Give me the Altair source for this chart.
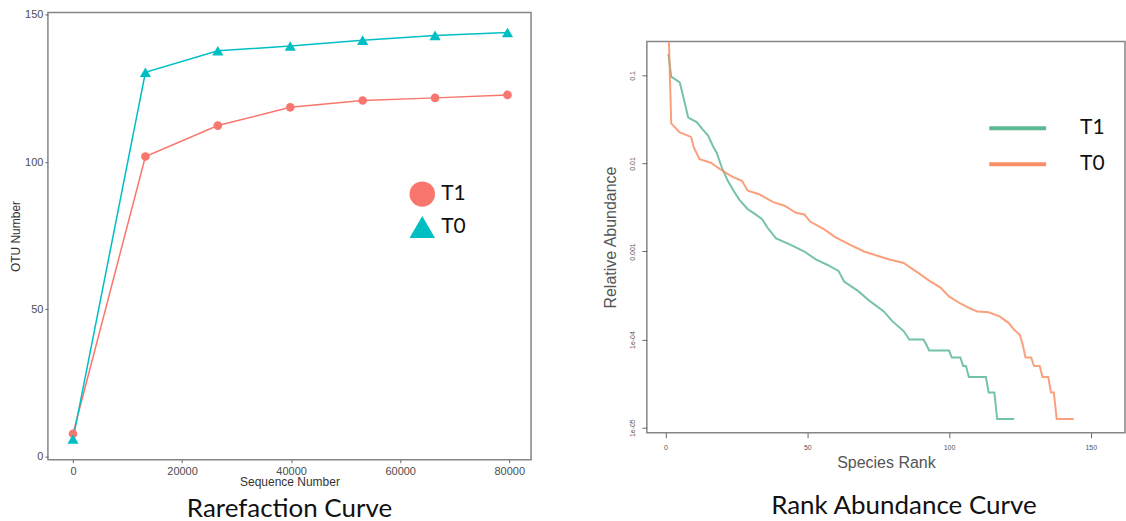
import altair as alt
import pandas as pd

# ---------------- Rarefaction curve (left) ----------------
seq_number = [0, 13280, 26560, 39840, 53120, 66400, 79680]
otu_t1 = [7.8, 101.9, 112.4, 118.6, 120.9, 121.8, 122.8]
otu_t0 = [6.0, 130.5, 137.8, 139.4, 141.4, 143.0, 144.0]
groups = ["T1", "T0"]
rare_colors = ["#F8766D", "#00BFC4"]
rare_shapes = ["circle", "triangle-up"]
rare_point_sizes = [75, 125]

# ---------------- Rank abundance curve (right) ----------------
rank_t1 = [1, 2, 5, 6, 8, 11, 13, 15, 17, 18, 20, 22, 24, 26, 29, 31, 34, 36, 39,
           44, 49, 53, 57, 61, 63, 68, 72, 77, 80, 84, 86, 91, 92, 93, 100, 101,
           104, 105, 106, 107, 113, 114, 116, 117, 123]
abund_t1 = [0.175, 0.0966, 0.0832, 0.0617, 0.0331, 0.0295, 0.0245, 0.0207, 0.0151,
            0.0133, 0.00871, 0.00631, 0.0049, 0.00389, 0.00302, 0.00275, 0.00234,
            0.00186, 0.00141, 0.0012, 0.001, 0.000813, 0.000708, 0.000603, 0.000457,
            0.000355, 0.000275, 0.000209, 0.000162, 0.000125, 0.0001004, 0.0001004,
            0.0000879, 0.0000753, 0.0000753, 0.0000628, 0.0000628, 0.0000502,
            0.0000502, 0.0000377, 0.0000377, 0.0000251, 0.0000251, 0.00001255,
            0.00001255]
rank_t0 = [1, 2, 5, 9, 10, 12, 16, 19, 23, 27, 29, 33, 38, 42, 46, 49, 51, 56, 60,
           65, 70, 75, 79, 84, 89, 93, 97, 100, 104, 107, 110, 114, 118, 121, 123,
           125, 126, 127, 129, 130, 132, 133, 135, 136, 137, 138, 144]
abund_t0 = [0.4, 0.0285, 0.0225, 0.02, 0.0151, 0.0112, 0.0102, 0.0087, 0.00724,
            0.00631, 0.0049, 0.00447, 0.00363, 0.00331, 0.00275, 0.00263, 0.00219,
            0.00178, 0.00145, 0.0012, 0.001, 0.000891, 0.000813, 0.000741, 0.000575,
            0.000468, 0.000389, 0.000309, 0.000257, 0.000229, 0.000209, 0.000204,
            0.000182, 0.000155, 0.000129, 0.000113, 0.0000879, 0.0000628, 0.0000628,
            0.0000502, 0.0000502, 0.0000377, 0.0000377, 0.0000251, 0.0000251,
            0.00001255, 0.00001255]
rank_colors = ["#5DB894", "#F98F66"]
log_ticks = [0.00001, 0.0001, 0.001, 0.01, 0.1]
log_tick_labels = ["1e-05", "1e-04", "0.001", "0.01", "0.1"]

# ---------------- tables ----------------
rare_df = pd.DataFrame({
    "seq": seq_number * 2,
    "otu": otu_t1 + otu_t0,
    "group": ["T1"] * len(seq_number) + ["T0"] * len(seq_number),
})
rank_df = pd.DataFrame({
    "rank": rank_t1 + rank_t0,
    "abund": abund_t1 + abund_t0,
    "sample": ["T1"] * len(rank_t1) + ["T0"] * len(rank_t0),
})

# ---------------- left chart ----------------
lx = alt.X("seq:Q", scale=alt.Scale(domain=[-4600, 84000], nice=False, zero=False),
           axis=alt.Axis(values=[0, 20000, 40000, 60000, 80000], format="d",
                         title="Sequence Number",
                         grid=False, domain=False, tickSize=3, tickColor="#666",
                         labelFont="Liberation Sans", labelFontSize=11, labelColor="#4d4d4d",
                         labelPadding=3, titleFont="Liberation Sans", titleFontSize=12,
                         titleFontWeight="normal", titleColor="#333", titlePadding=0))
ly = alt.Y("otu:Q", scale=alt.Scale(domain=[-1, 150.8], nice=False, zero=False),
           axis=alt.Axis(values=[0, 50, 100, 150], title="OTU Number", grid=False,
                         domain=False, tickSize=3, tickColor="#666",
                         labelFont="Liberation Sans", labelFontSize=11, labelColor="#4d4d4d",
                         labelPadding=2, titleFont="Liberation Sans", titleFontSize=12,
                         titleFontWeight="normal", titleColor="#333", titlePadding=2))
rare_scale = alt.Scale(domain=groups, range=rare_colors)
shape_scale = alt.Scale(domain=groups, range=rare_shapes)
rare_legend = alt.Legend(title=None, orient="none", legendX=362, legendY=169,
                         symbolSize=650, labelFont="Lato", labelFontSize=21,
                         labelColor="#111", rowPadding=7, padding=0,
                         labelOffset=6, symbolStrokeWidth=0, symbolOpacity=1)

rare_lines = alt.Chart(rare_df).mark_line(strokeWidth=1.5).encode(
    x=lx, y=ly,
    stroke=alt.Stroke("group:N", scale=rare_scale, legend=None),
)
point_layers = []
for g, s in zip(groups, rare_point_sizes):
    point_layers.append(
        alt.Chart(rare_df).transform_filter(alt.datum.group == g)
        .mark_point(filled=True, opacity=1, size=s).encode(
            x=lx, y=ly,
            color=alt.Color("group:N", scale=rare_scale, legend=rare_legend),
            shape=alt.Shape("group:N", scale=shape_scale, legend=rare_legend),
        )
    )
left = alt.layer(rare_lines, *point_layers).properties(
    width=484, height=448,
    title=alt.TitleParams("Rarefaction Curve", orient="bottom", font="Lato", fontSize=26,
                          fontWeight="normal", color="#111", offset=8, frame="group",
                          anchor="middle"),
)

# ---------------- right chart ----------------
label_expr = ("datum.value > 0.05 ? '%s' : datum.value > 0.005 ? '%s' : "
              "datum.value > 0.0005 ? '%s' : datum.value > 0.00005 ? '%s' : '%s'"
              % tuple(reversed(log_tick_labels)))
rx = alt.X("rank:Q", scale=alt.Scale(domain=[-6.6, 162.1], nice=False, zero=False),
           axis=alt.Axis(values=[0, 50, 100, 150], title="Species Rank", grid=False,
                         domain=False, tickSize=5, tickColor="#666",
                         labelFont="Liberation Sans", labelFontSize=7, labelColor="#555",
                         labelPadding=6, titleFont="Liberation Sans", titleFontSize=16,
                         titleFontWeight="normal", titleColor="#555", titlePadding=4))
ry = alt.Y("abund:Q", scale=alt.Scale(type="log", domain=[0.00000877, 0.243], nice=False),
           axis=alt.Axis(values=log_ticks, labelExpr=label_expr, title="Relative Abundance",
                         grid=False, domain=False, tickSize=5, tickColor="#666",
                         labelAngle=270, labelFont="Liberation Sans", labelFontSize=7,
                         labelColor="#555", labelPadding=6, titleFont="Liberation Sans",
                         titleFontSize=16, titleFontWeight="normal", titleColor="#555",
                         titlePadding=10))
rank_lines = alt.Chart(rank_df).mark_line(strokeWidth=2, strokeOpacity=0.85, clip=True).encode(
    x=rx, y=ry,
    color=alt.Color("sample:N", scale=alt.Scale(domain=groups, range=rank_colors),
                    legend=alt.Legend(title=None, orient="none", legendX=341, legendY=98,
                                      symbolType="stroke", symbolSize=3249,
                                      symbolStrokeWidth=4, symbolOpacity=1,
                                      labelFont="Lato", labelFontSize=21, labelColor="#111",
                                      rowPadding=0, clipHeight=36, padding=0,
                                      labelOffset=32)),
).properties(width=479, height=392)

spacer_df = pd.DataFrame({"v": [0]})
spacer = alt.Chart(spacer_df).mark_point(opacity=0).encode(
    x=alt.value(0), y=alt.value(0)
).properties(width=1, height=1, view=alt.ViewBackground(stroke="transparent"))

right = alt.vconcat(spacer, rank_lines, spacing=24).properties(
    title=alt.TitleParams("Rank Abundance Curve", orient="bottom", font="Lato", fontSize=26,
                          fontWeight="normal", color="#111", offset=22, anchor="middle",
                          dx=40),
)

chart = alt.hconcat(left, right, spacing=70).resolve_scale(
    color="independent", shape="independent"
).resolve_legend(color="independent", shape="independent").properties(
    padding={"left": 8, "top": 7, "right": 0, "bottom": 0},
).configure_view(stroke="#858585", strokeWidth=1.5)

chart.save("out.html", embed_options={"renderer": "svg", "actions": False})
